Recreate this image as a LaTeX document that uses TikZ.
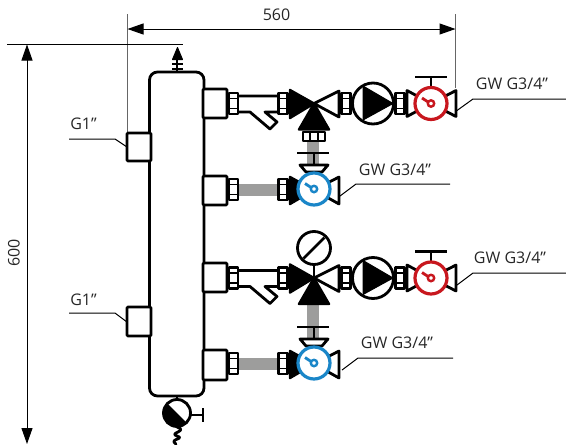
\documentclass[tikz,border=0pt]{standalone}
\usepackage{fontspec}
\setmainfont{Open Sans}
\usepackage{tikz}
\usetikzlibrary{arrows.meta}
\definecolor{pipegray}{HTML}{9D9D9C}
\definecolor{dialred}{HTML}{C8171E}
\definecolor{dialblue}{HTML}{1A86C8}
\tikzset{
 part/.style={draw=black,line width=2.8pt,line join=round},
 thin part/.style={draw=black,line width=1.8pt,line join=round},
 dim/.style={draw=black,line width=1pt,{Triangle[length=16pt,width=11pt]}-{Triangle[length=16pt,width=11pt]}},
 ext/.style={draw=black!60,line width=1.2pt},
 leader/.style={draw=black,line width=1pt},
 label/.style={font=\fontsize{16}{18}\selectfont,inner sep=0pt,text=black!85},
 pipe/.style={draw=none,fill=pipegray},
 nipple/.pic={
 \draw[part,fill=white] (-4.5,-10.5) rectangle (4.5,10.5);
 \draw[thin part] (-4.5,-5) -- (4.5,-5) (-4.5,5) -- (4.5,5);
 },
 dial/.pic={
 \draw[part,draw=#1,line width=3.2pt,fill=white] (0,0) circle (16);
 \draw[draw=#1,line width=2.4pt] (0,0) circle (3.2);
 \draw[draw=#1,line width=2.8pt] (-2.8,-1.4) -- (-9,-5.5);
 },
}
\newcommand{\port}[2]{\draw[part,rounded corners=1pt,fill=white] (#1) rectangle (#2);}
\begin{document}
\begin{tikzpicture}[x=1pt,y=-1pt]
\useasboundingbox (0,0) rectangle (566,445);

\draw[ext] (127.5,14) -- (127.5,134) (455.5,14) -- (455.5,88);
\draw[leader] (7,44) -- (183,44);
\coordinate (widthl) at (127.5,29);
\coordinate (widthr) at (455.5,29);
\coordinate (heightt) at (27,44.5);
\coordinate (heightb) at (27,444);
\draw[dim] (widthl) -- (widthr);
\draw[dim] (heightt) -- (heightb);
\node[label] (width) at (276.5,15) {560};
\node[label,rotate=90] (height) at (14,253) {600};

\draw[part,rounded corners=8pt,fill=white] (149.5,72) rectangle (204,396);

\draw[part,line width=2pt] (177,72) -- (177,58);
\draw[line width=2pt] (172,64) -- (183,64) (172,68.5) -- (183,68.5);
\fill[line join=round,draw=black,line width=1pt] (177.5,47.5) -- (182.5,59.5) -- (172.5,59.5) -- cycle;

\port{127,133}{151,161}
\port{127,307}{151,336}
\port{203,89}{227,118}
\port{203,176}{227,205}
\port{203,263}{227,292}
\port{203,350}{227,380}

\draw[part] (177,396) -- (177,400);
\begin{scope}
\clip (177,413) circle (13.5);
\fill (165,401) -- (189,425) -- (160,432) -- (155,405) -- cycle;
\end{scope}
\draw[part] (177,413) circle (13.5);
\draw[part] (190,415) -- (203,415) (203,408) -- (203,422);
\draw[part,line cap=round] (177,427) .. controls (189,431) and (168,433) .. (177,436)
 .. controls (186,439) and (168,439) .. (176,444);

\path[pipe] (307,139) rectangle (319,176);
\path[pipe] (307,300) rectangle (319,350);
\foreach \dy in {0,174} {
\begin{scope}[shift={(0,\dy)}]
\path[pipe] (238,184) rectangle (280,196);
\draw[part] (314,153) -- (314,170);
\draw[part] (297,153) -- (329,153);
\draw[part,fill=white] (300,165) -- (328,165) -- (322,172) -- (306,172) -- cycle;
\pic at (233.5,189.5) {nipple};
\pic at (283,189.5) {nipple};
\fill[draw=black,line width=2.4pt,line join=round] (314,190) -- (290,177) -- (290,204) -- cycle;
\draw[part,fill=white] (314,190) -- (339,177) -- (339,204) -- cycle;
\pic at (314,189) {dial=dialblue};
\end{scope}
}

\foreach \dy in {0,174.5} {
\begin{scope}[shift={(0,\dy)}]
\draw[part] (238,96) -- (280,96) (238,112) -- (250,112) -- (270,129) -- (277,122) -- (265,112) -- (280,112);
\pic at (233.5,103.5) {nipple};
\pic at (283,103.5) {nipple};
\fill[draw=black,line width=2.4pt,line join=round] (314,103.5) -- (290,90) -- (290,118) -- cycle;
\draw[part,fill=white] (314,103.5) -- (339,91) -- (339,117) -- cycle;
\fill[draw=black,line width=2.4pt,line join=round] (314,103.5) -- (329,129.5) -- (299,129.5) -- cycle;
\pic at (346,103.5) {nipple};
\pic at (400,103.5) {nipple};
\draw[part,fill=white] (373,103.5) circle (20.5);
\fill[draw=black,line width=1pt,line join=round] (363,86) -- (393,103.5) -- (363,120) -- cycle;
\draw[part] (431,77) -- (431,88);
\draw[part] (415,77) -- (447,77);
\draw[part,fill=white] (407,90.5) -- (431,103.5) -- (407,116.5) -- cycle;
\draw[part,fill=white] (456,90.5) -- (431,103.5) -- (456,116.5) -- cycle;
\pic at (431,103.5) {dial=dialred};
\end{scope}
}

\draw[part,fill=white] (303,132) rectangle (325,141);
\draw[thin part] (310,132) -- (310,141) (318,132) -- (318,141);
\draw[part] (314,263) -- (314,278);
\draw[part,fill=white] (314,248) circle (16.5);
\draw[part] (303.5,258.5) -- (324.5,237.5);

\node[label] (gone) at (83.5,124) {G1”};
\node[label] (gtwo) at (83.5,300) {G1”};
\coordinate (gonea) at (127,147);
\coordinate (gtwoa) at (127,322);
\draw[leader] (gonea) -- (115,139) -- (69,139);
\draw[leader] (gtwoa) -- (115,313) -- (69,313);
\node[label] (redone) at (512,83.5) {GW G3/4”};
\node[label] (redtwo) at (510,258) {GW G3/4”};
\node[label] (blueone) at (395,170) {GW G3/4”};
\node[label] (bluetwo) at (397,343) {GW G3/4”};
\draw[leader] (457,110.5) -- (473,99) -- (566,99);
\draw[leader] (457,285) -- (473,273) -- (566,273);
\draw[leader] (340,196) -- (356,184) -- (450,184);
\draw[leader] (342,370) -- (358,358) -- (453,358);
\end{tikzpicture}
\end{document}
